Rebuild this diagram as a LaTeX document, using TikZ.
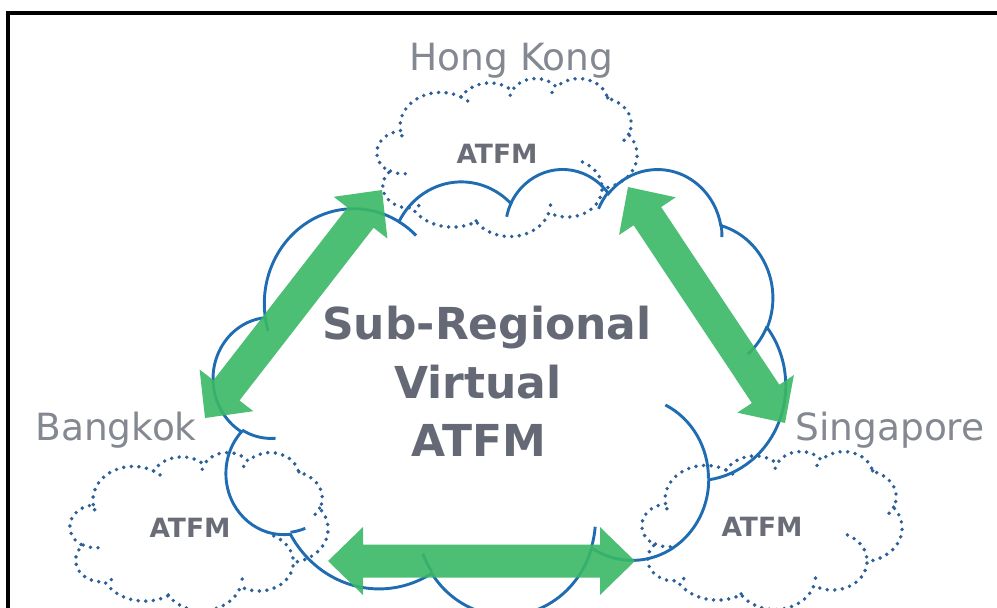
\documentclass[tikz,border=0pt]{standalone}
\usepackage{fontspec}
\newfontfamily\labelfont{DejaVu Sans}
\usetikzlibrary{calc}

\definecolor{cloudblue}{RGB}{31,108,178}
\definecolor{dotblue}{RGB}{44,96,152}
\definecolor{linkgreen}{RGB}{58,184,102}
\definecolor{labelgray}{RGB}{132,136,145}
\definecolor{titlegray}{RGB}{100,105,117}
\definecolor{taggray}{RGB}{106,109,119}

% One lobe of the cloud outline: x radius, y radius, start angle, sweep
% (angles are true angles on the ellipse; converted to parametric ones here)
\newcommand\cldarc[4]{arc[start angle={atan2((#1)*sin(#3),(#2)*cos(#3))},
  delta angle={mod(atan2((#1)*sin((#3)+(#4)),(#2)*cos((#3)+(#4)))-atan2((#1)*sin(#3),(#2)*cos(#3))+720,360)},
  x radius=#1, y radius=#2]}

% cloud outline in a 432 x 432 box
\newcommand\cloudrim{(39.00,143.70)
  \cldarc{67.53}{91.90}{-190.48748}{123.78053}
  \cldarc{53.33}{72.67}{-144.10238}{89.94523}
  \cldarc{43.65}{59.45}{-145.80792}{99.72302}
  \cldarc{48.57}{65.95}{-130.98607}{117.24173}
  \cldarc{53.33}{72.73}{-78.70888}{109.02692}
  \cldarc{67.75}{92.20}{-46.26725}{130.26900}
  \cldarc{57.85}{78.67}{0.62502}{114.03333}
  \cldarc{67.52}{92.15}{22.45160}{115.17255}
  \cldarc{77.20}{105.43}{66.24263}{75.71102}
  \cldarc{43.60}{59.18}{-274.94208}{146.73557}
  \cldarc{43.45}{59.45}{-246.82850}{152.51885}}

% short inner arcs where the lobes overlap
\newcommand\cloudfolds{%
  (46.93,261.77) \cldarc{43.45}{59.45}{86.74200}{26.42950}
  (69.28,348.99) \cldarc{43.60}{59.18}{73.61047}{11.44747}
  (164.78,390.90) \cldarc{67.52}{92.15}{137.62415}{14.08110}
  (288.27,347.51) \cldarc{67.52}{92.15}{6.45327}{15.99835}
  (341.29,229.54) \cldarc{57.85}{78.67}{-70.29235}{70.91737}
  (417.98,153.54) \cldarc{53.33}{72.73}{30.31803}{27.75150}
  (383.24,54.26) \cldarc{48.57}{65.95}{-13.74433}{14.85890}
  (290.78,39.52) \cldarc{48.57}{65.95}{-149.18145}{18.19537}
  (221.41,47.20) \cldarc{43.65}{59.45}{-163.49427}{17.68635}
  (140.00,51.92) \cldarc{67.53}{91.90}{-66.70695}{12.31935}
  (41.27,157.89) \cldarc{67.53}{91.90}{157.65435}{11.85817}}

% cloud at top-left corner (#1,#2), width #3, height #4, line style #5
\newcommand\pptcloud[5]{%
  \begin{scope}[shift={(#1,#2)},xscale=#3/432,yscale=#4/432]
    \draw[#5] \cloudrim;
    \draw[#5] \cloudfolds;
  \end{scope}}

% broad two-headed arrow between two named points
\newcommand\twoway[2]{%
  \fill[linkfill] (#1)
    -- ($(#1)!35pt!(#2)!34pt!90:(#2)$)
    -- ($(#1)!35pt!(#2)!16.5pt!90:(#2)$)
    -- ($(#2)!35pt!(#1)!16.5pt!-90:(#1)$)
    -- ($(#2)!35pt!(#1)!34pt!-90:(#1)$)
    -- (#2)
    -- ($(#2)!35pt!(#1)!34pt!90:(#1)$)
    -- ($(#2)!35pt!(#1)!16.5pt!90:(#1)$)
    -- ($(#1)!35pt!(#2)!16.5pt!-90:(#2)$)
    -- ($(#1)!35pt!(#2)!34pt!-90:(#2)$)
    -- cycle;}

\begin{document}
\begin{tikzpicture}[x=1pt,y=1pt,yscale=-1,
  dotrim/.style={dotblue,line width=3.9pt,line cap=round,dash pattern=on 0pt off 7.6pt},
  solidrim/.style={cloudblue,line width=2.9pt},
  linkfill/.style={fill=linkgreen,fill opacity=0.9},
  citylabel/.style={font=\labelfont\fontsize{37.5}{45}\selectfont,text=labelgray,anchor=base,inner sep=0pt},
  titleline/.style={font=\labelfont\bfseries\fontsize{44}{52}\selectfont,text=titlegray,anchor=base,inner sep=0pt},
  centretag/.style={font=\labelfont\bfseries\fontsize{26.5}{32}\selectfont,text=taggray,anchor=base,inner sep=0pt}]
\useasboundingbox (0,0) rectangle (997,608);

% frame
\draw[line width=3.3pt] (8,620) -- (8,13) -- (1010,13);

% local ATFM clouds
\pptcloud{377}{78}{260}{158}{dotrim}
\pptcloud{70}{452}{258}{158}{dotrim}
\pptcloud{642}{451}{260}{158}{dotrim}

% sub-regional cloud
\pptcloud{213.5}{168}{572}{446}{solidrim}

% arrow ends
\coordinate (bkk-up) at (205,418);
\coordinate (hk-left) at (382,190);
\coordinate (hk-right) at (628,187);
\coordinate (sg-up) at (785,423);
\coordinate (bkk-low) at (328,561);
\coordinate (sg-low) at (635,561);

\twoway{bkk-up}{hk-left}
\twoway{hk-right}{sg-up}
\twoway{bkk-low}{sg-low}

% city names
\node[citylabel] (hk-name) at (511.5,70) {Hong Kong};
\node[citylabel] (bkk-name) at (116,440) {Bangkok};
\node[citylabel] (sg-name) at (890,440) {Singapore};

% ATFM tags inside the small clouds
\node[centretag] (hk-atfm) at (497,163) {ATFM};
\node[centretag] (bkk-atfm) at (190,537) {ATFM};
\node[centretag] (sg-atfm) at (762,536) {ATFM};

% centre title
\node[titleline] (title-a) at (487,339) {Sub-Regional};
\node[titleline] (title-b) at (478,398) {Virtual};
\node[titleline] (title-c) at (479,456) {ATFM};
\end{tikzpicture}
\end{document}
